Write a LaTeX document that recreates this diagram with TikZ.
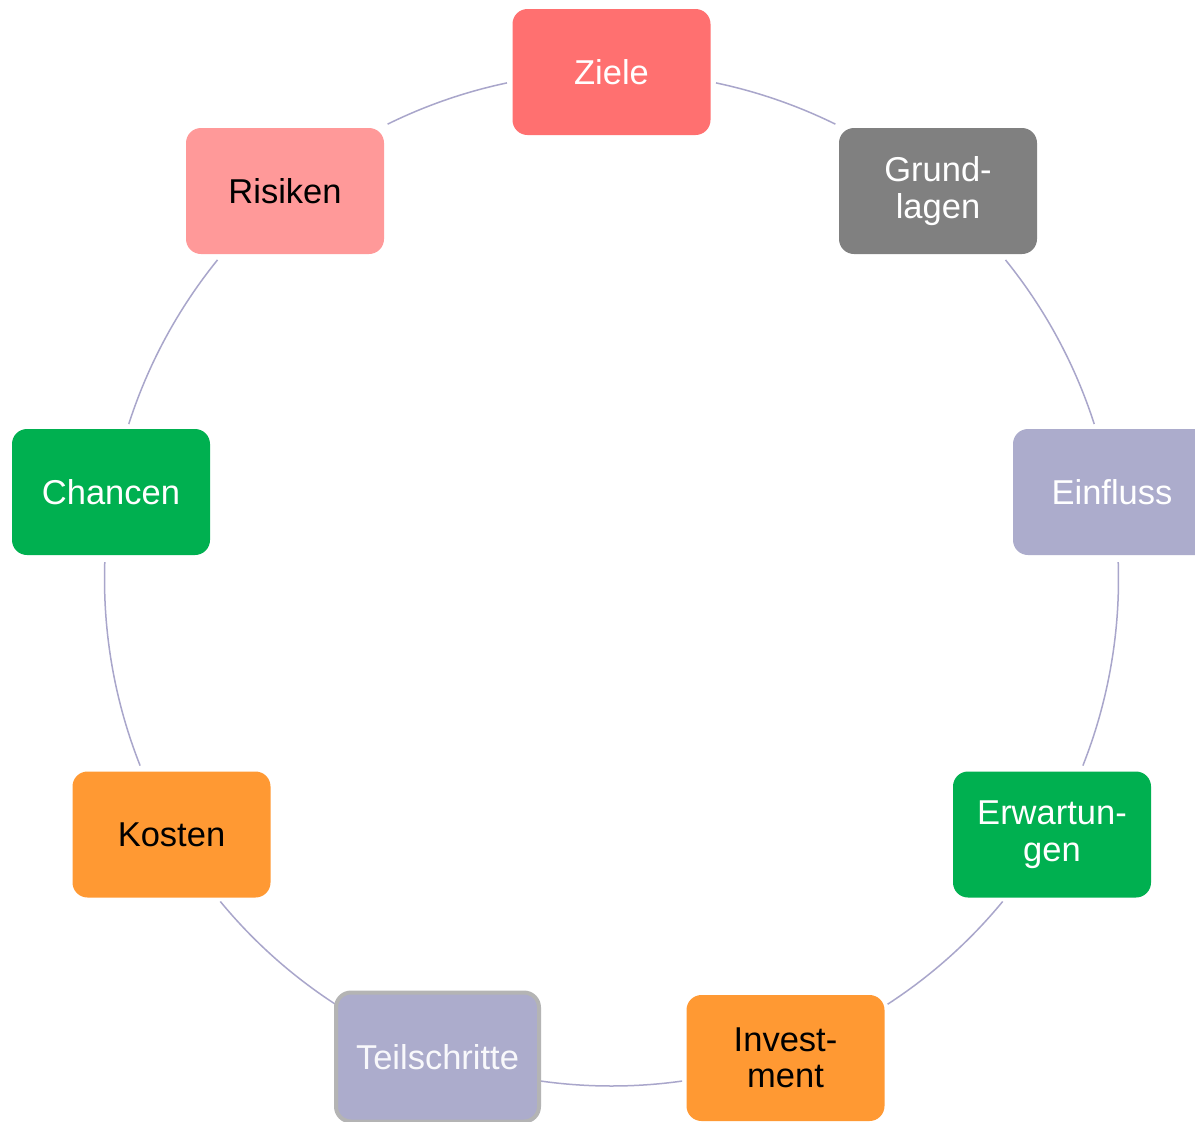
\documentclass[tikz,border=0pt]{standalone}
\usepackage{fontspec}
\setmainfont{Liberation Sans}
\definecolor{cRed}{HTML}{FF7070}
\definecolor{cPink}{HTML}{FF9999}
\definecolor{cGray}{HTML}{808080}
\definecolor{cLav}{HTML}{ACACCC}
\definecolor{cGreen}{HTML}{00B050}
\definecolor{cOrange}{HTML}{FF9933}
\definecolor{cBorder}{HTML}{B4B4B4}
\definecolor{cLine}{HTML}{A9A6CB}
\begin{document}
\begin{tikzpicture}[x=1pt,y=-1pt,
  box/.style={rounded corners=15pt, minimum width=198pt, minimum height=126pt,
    inner sep=0pt, align=center, font=\fontsize{34.5}{36.5}\selectfont},
  wtext/.style={text=white},
  btext/.style={text=black},
  link/.style={draw=cLine, line width=1.5pt}]
\clip (0,0) rectangle (1195,1122);
\fill[white] (0,0) rectangle (1195,1122);
\coordinate (c) at (611.5,579);
\def\R{507}
% connectors (arcs of the cycle); angles negated because the y axis points down
\draw[link] ([shift={(-78.1:\R)}]c) arc[start angle=-78.1, end angle=-63.8, radius=\R];
\draw[link] ([shift={(-39.0:\R)}]c) arc[start angle=-39.0, end angle=-17.8, radius=\R];
\draw[link] ([shift={(-1.9:\R)}]c) arc[start angle=-1.9, end angle=21.6, radius=\R];
\draw[link] ([shift={(39.5:\R)}]c) arc[start angle=39.5, end angle=57, radius=\R];
\draw[link] ([shift={(82:\R)}]c) arc[start angle=82, end angle=98, radius=\R];
\draw[link] ([shift={(123:\R)}]c) arc[start angle=123, end angle=140.5, radius=\R];
\draw[link] ([shift={(158.4:\R)}]c) arc[start angle=158.4, end angle=181.9, radius=\R];
\draw[link] ([shift={(-162.2:\R)}]c) arc[start angle=-162.2, end angle=-141, radius=\R];
\draw[link] ([shift={(-116.2:\R)}]c) arc[start angle=-116.2, end angle=-101.9, radius=\R];
% nodes
\node[box, fill=cRed, wtext] (ziele) at (611.5,72) {Ziele};
\node[box, fill=cGray, wtext] (grund) at (938,191) {Grund-\\lagen};
\node[box, fill=cLav, wtext] (einfluss) at (1112,492) {Einfluss};
\node[box, fill=cGreen, wtext] (erw) at (1052,834.5) {Erwartun-\\gen};
\node[box, fill=cOrange, btext] (invest) at (785.5,1058) {Invest-\\ment};
\node[box, fill=cLav, draw=cBorder, line width=4pt, text=white!92!cLav, minimum width=203pt, minimum height=129pt] (teil) at (437.5,1057) {Teilschritte};
\node[box, fill=cOrange, btext] (kosten) at (171.5,834.5) {Kosten};
\node[box, fill=cGreen, wtext] (chancen) at (111,492) {Chancen};
\node[box, fill=cPink, btext] (risiken) at (285,191) {Risiken};
\end{tikzpicture}
\end{document}
